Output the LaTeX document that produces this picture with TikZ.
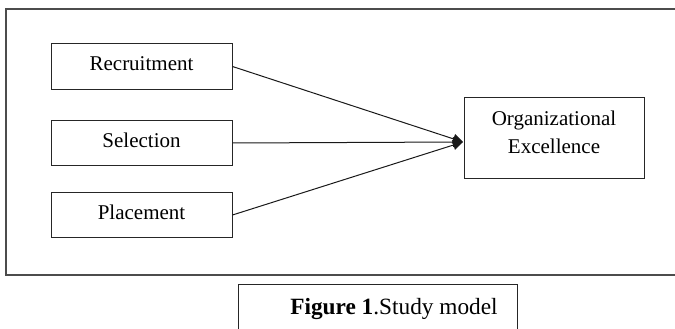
\documentclass[tikz,border=0pt]{standalone}
\usepackage{fontspec}
\setmainfont{Liberation Serif}
\usetikzlibrary{arrows.meta}
\begin{document}
\begin{tikzpicture}[x=1pt,y=1pt,
  boxstyle/.style={draw=black!85, line width=1pt, minimum width=181pt, minimum height=45.5pt, inner sep=0pt,
    text height=14pt, text depth=5.1pt, font=\fontsize{21}{28}\selectfont},
  conn/.style={draw=black!90, line width=1pt, -{Triangle[length=10pt,width=10pt]}, shorten >=0pt},
  framestyle/.style={draw=black!70, line width=1.4pt}]
\useasboundingbox (0,0) rectangle (675,329);
% outer frame (open on the right)
\draw[framestyle] (676,320) -- (6,320) -- (6,54) -- (676,54);
% nodes
\node[boxstyle] (rec) at (141.5,262.5) {Recruitment};
\node[boxstyle] (sel) at (141.5,186) {Selection};
\node[boxstyle] (pla) at (141.5,114) {Placement};
\node[draw=black!85, line width=1pt, minimum width=180pt, minimum height=81pt, inner sep=0pt] (org) at (554,190.5) {};
\node[align=center, font=\fontsize{21}{28}\selectfont, inner sep=0pt] (orgtxt) at ([yshift=6pt]org.center) {Organizational\\Excellence};
\coordinate (tip) at (463,187);
% connectors
\draw[conn] (rec.east) -- (tip);
\draw[conn] (sel.east) -- (tip);
\draw[conn] (pla.east) -- (tip);
% caption
\draw[draw=black!85, line width=1pt] (238,-5) -- (238,44) -- (517,44) -- (517,-5);
\node[anchor=base, font=\fontsize{23.3}{28}\selectfont, inner sep=0pt] (cap) at (394,14) {\textbf{Figure 1}.Study model};
\end{tikzpicture}
\end{document}
